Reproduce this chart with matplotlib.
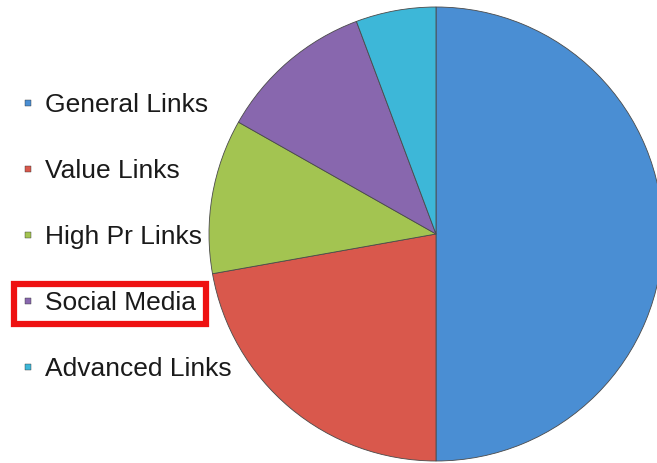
import matplotlib
matplotlib.use("Agg")
import matplotlib.pyplot as plt
from matplotlib.lines import Line2D
from matplotlib.patches import Rectangle

# Data
labels = ["General Links", "Value Links", "High Pr Links", "Social Media", "Advanced Links"]
shares = [50, 22.2, 11.0, 11.1, 5.7]
colors = ["#4a8ed3", "#d9584c", "#a3c451", "#8867ae", "#3db7d8"]

plt.rcParams["font.family"] = ["Liberation Sans", "DejaVu Sans"]

W, H = 657, 463
fig = plt.figure(figsize=(W / 100, H / 100), dpi=100)

# pie axes: center (436, 234) px, radius 227 px
cx, cy, r = 436, 234, 227
ax = fig.add_axes([(cx - r) / W, (H - cy - r) / H, 2 * r / W, 2 * r / H])
wedges, _ = ax.pie(shares, colors=colors, startangle=90, counterclock=False,
                   radius=1, wedgeprops=dict(edgecolor="#4a4a4a", linewidth=0.6))
ax.set_xlim(-1, 1)
ax.set_ylim(-1, 1)
ax.set_aspect("equal")
ax.axis("off")

# Legend
handles = [Line2D([], [], marker="s", ls="", color=c, markersize=5,
                  markeredgecolor="#333333", markeredgewidth=0.3) for c in colors]
fig.legend(handles, labels, loc="upper left", bbox_to_anchor=(7 / W, 1 - 80 / H),
           frameon=False, fontsize=19, labelspacing=1.59, handlelength=0.6,
           handletextpad=0.34, borderpad=0, labelcolor="#1a1a1a")

# Red highlight box around "Social Media"
fig.patches.append(Rectangle((14 / W, 1 - 324 / H), 192 / W, 40 / H,
                             transform=fig.transFigure, fill=False,
                             edgecolor="#ee1111", linewidth=4.5))

fig.savefig("out.png", dpi=100, facecolor="white")
